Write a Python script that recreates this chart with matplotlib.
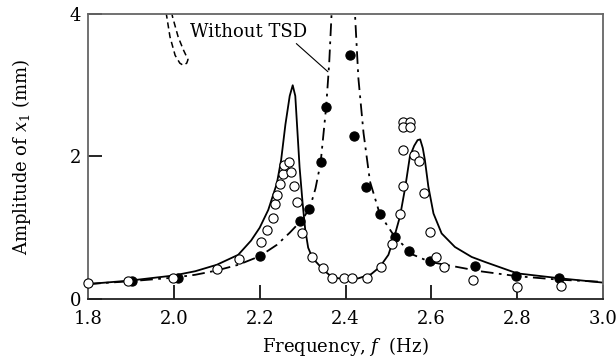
import matplotlib
matplotlib.use("Agg")
import matplotlib.pyplot as plt

plt.rcParams['font.family'] = ['DejaVu Serif']
plt.rcParams['mathtext.fontset'] = 'dejavuserif'

# Theory, with TSD (solid)
with_tsd_f = [1.80, 1.90, 2.00, 2.05, 2.10, 2.15, 2.18, 2.20, 2.22, 2.24, 2.25, 2.26,
              2.27, 2.277, 2.283, 2.288, 2.293, 2.300, 2.306, 2.313, 2.320, 2.330,
              2.350, 2.370, 2.400, 2.430, 2.460, 2.480, 2.500, 2.515, 2.527, 2.539,
              2.550, 2.560, 2.568, 2.574, 2.580, 2.585, 2.593, 2.605, 2.624, 2.655,
              2.694, 2.725, 2.800, 2.900, 3.000]
with_tsd_a = [0.21, 0.26, 0.33, 0.39, 0.48, 0.62, 0.82, 1.00, 1.25, 1.62, 1.95, 2.45,
              2.85, 3.00, 2.85, 2.35, 1.85, 1.35, 0.98, 0.72, 0.62, 0.53,
              0.40, 0.30, 0.28, 0.29, 0.35, 0.45, 0.62, 0.90, 1.16, 1.56,
              2.00, 2.15, 2.23, 2.24, 2.12, 1.95, 1.58, 1.20, 0.92, 0.73,
              0.59, 0.52, 0.36, 0.29, 0.23]

# Theory, without TSD (dash-dot)
without_tsd_f = [1.80, 1.90, 2.00, 2.05, 2.10, 2.15, 2.20, 2.24, 2.27, 2.30, 2.317,
                 2.330, 2.342, 2.355, 2.362, 2.368, 2.374, 2.416, 2.422, 2.430, 2.442,
                 2.457, 2.480, 2.515, 2.558, 2.597, 2.660, 2.713, 2.800, 2.900, 3.000]
without_tsd_a = [0.21, 0.25, 0.30, 0.34, 0.40, 0.48, 0.60, 0.76, 0.93, 1.12, 1.28,
                 1.55, 1.91, 2.70, 3.31, 4.06, 4.80, 4.80, 4.01, 3.10, 2.33,
                 1.65, 1.19, 0.87, 0.62, 0.52, 0.45, 0.39, 0.32, 0.27, 0.24]

# Unstable branch (dashed)
branch_f = [1.982, 1.991, 2.003, 2.014, 2.022, 2.030, 2.033, 2.022, 2.010, 1.997, 1.995]
branch_a = [4.02, 3.68, 3.42, 3.31, 3.28, 3.31, 3.36, 3.50, 3.68, 3.96, 4.02]

# Experiment with TSD (open circles)
exp_with_f = [1.800, 1.894, 1.999, 2.100, 2.152, 2.203, 2.216, 2.230, 2.236, 2.241,
              2.247, 2.254, 2.257, 2.269, 2.272, 2.281, 2.288, 2.299, 2.323, 2.347,
              2.369, 2.397, 2.414, 2.451, 2.482, 2.508, 2.527, 2.533, 2.535, 2.533,
              2.550, 2.533, 2.550, 2.560, 2.571, 2.583, 2.597, 2.611, 2.629, 2.696,
              2.799, 2.902]
exp_with_a = [0.22, 0.25, 0.30, 0.42, 0.56, 0.80, 0.97, 1.13, 1.34, 1.46,
              1.62, 1.75, 1.88, 1.92, 1.78, 1.59, 1.36, 0.92, 0.59, 0.44,
              0.29, 0.29, 0.29, 0.29, 0.45, 0.77, 1.19, 1.59, 2.09, 2.49,
              2.49, 2.41, 2.41, 2.02, 1.94, 1.49, 0.94, 0.59, 0.45, 0.26,
              0.17, 0.18]

# Experiment without TSD (filled circles)
exp_without_f = [1.902, 2.010, 2.201, 2.295, 2.316, 2.343, 2.355, 2.410, 2.420, 2.447,
                 2.480, 2.515, 2.548, 2.598, 2.702, 2.797, 2.897]
exp_without_a = [0.25, 0.30, 0.60, 1.09, 1.26, 1.92, 2.69, 3.42, 2.29, 1.57,
                 1.19, 0.87, 0.67, 0.53, 0.46, 0.32, 0.30]

x_ticks = [1.8, 2.0, 2.2, 2.4, 2.6, 2.8, 3.0]
x_tick_labels = ['1.8', '2.0', '2.2', '2.4', '2.6', '2.8', '3.0']
y_ticks = [0, 2, 4]
y_tick_labels = ['0', '2', '4']

fig = plt.figure(figsize=(6.16, 3.62), dpi=100)
ax = fig.add_axes([88/616, 1-299/362, 515/616, 285/362])

ax.plot(with_tsd_f, with_tsd_a, color='black', lw=1.3, zorder=2)
ax.plot(without_tsd_f, without_tsd_a, color='black', lw=1.3,
        linestyle=(0, (7, 3, 1.5, 3)), zorder=2)
ax.plot(branch_f, branch_a, color='black', lw=1.1, linestyle=(0, (4, 2.5)), zorder=2)

ax.scatter(exp_without_f, exp_without_a, s=44, facecolor='black', edgecolor='black',
           linewidth=0.8, zorder=3, clip_on=False)
ax.scatter(exp_with_f, exp_with_a, s=44, facecolor='white', edgecolor='black',
           linewidth=0.8, zorder=4, clip_on=False)

ax.annotate('Without TSD', xy=(2.359, 3.19), xytext=(2.038, 3.75),
            fontsize=13, ha='left', va='center',
            arrowprops=dict(arrowstyle='-', color='black', lw=0.8,
                            shrinkA=0, shrinkB=0, relpos=(0.88, 0.0)))

ax.set_xlim(1.8, 3.0)
ax.set_ylim(0, 4)
ax.set_xticks(x_ticks)
ax.set_xticklabels(x_tick_labels)
ax.set_yticks(y_ticks)
ax.set_yticklabels(y_tick_labels)
ax.tick_params(axis='both', direction='in', length=10, width=1.2, labelsize=13)
ax.tick_params(axis='x', pad=8)
ax.tick_params(axis='y', pad=5)

for side in ['left', 'top', 'right']:
    ax.spines[side].set_color('#666666')
    ax.spines[side].set_linewidth(1.3)
ax.spines['bottom'].set_color('#222222')
ax.spines['bottom'].set_linewidth(1.3)

ax.set_xlabel('Frequency, $f$  (Hz)', fontsize=13, labelpad=5)
ax.set_ylabel('Amplitude of $x_1$ (mm)', fontsize=13, labelpad=26)

fig.savefig('out.png', dpi=100)
